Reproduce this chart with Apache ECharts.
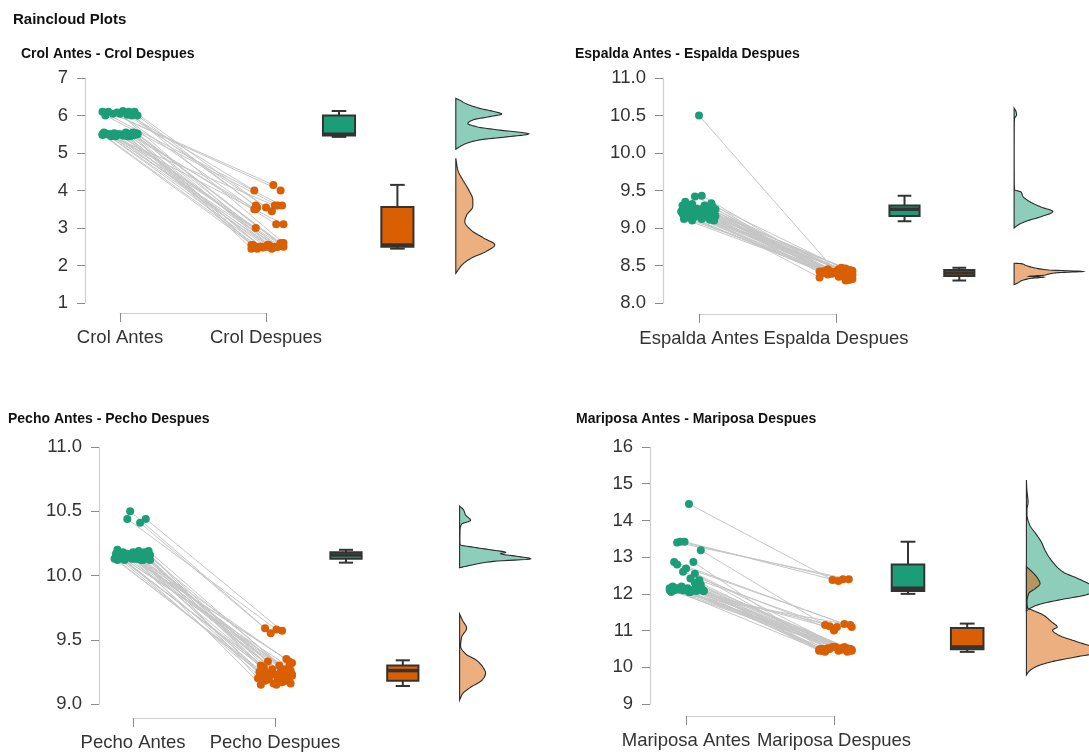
<!DOCTYPE html>
<html>
<head>
<meta charset="utf-8">
<script src="https://cdn.jsdelivr.net/npm/echarts@6/dist/echarts.min.js"></script>
<style>
html,body{margin:0;padding:0;background:#fff;}
#chart{width:1089px;height:753px;}
</style>
</head>
<body>
<div id="chart"></div>
<script>
// ---------------- DATA ----------------
const mainTitle = 'Raincloud Plots';

// Crol
const crolTitle = 'Crol Antes - Crol Despues';
const crolCategories = ['Crol Antes', 'Crol Despues'];
const crolYTicks = [1, 7, 1];
const crolAntes = [6.10,6.12,6.05,6.00,6.10,6.00,6.08,6.02,6.10,6.00,6.05,6.10,
  5.50,5.55,5.50,5.45,5.50,5.52,5.48,5.50,5.45,5.55,5.50,5.47,5.50,5.52,5.45,5.50,5.50,5.55,5.48,5.50,5.45,5.50,5.52,5.50,5.47,5.50,5.53,5.50];
const crolDespues = [4.15,4.00,4.00,3.60,3.55,3.60,3.50,3.45,3.60,3.55,2.55,2.60,
  3.60,3.50,3.10,3.10,3.00,2.60,2.55,2.50,2.50,2.45,2.50,2.55,2.50,2.48,2.50,2.55,2.45,2.50,2.50,2.52,2.50,2.48,2.55,2.50,2.50,2.45,2.55,2.50];
const crolJitterAntes = [-0.08,0.02,-0.05,0.08,0.10,-0.10,-0.02,0.05,-0.12,0.12,0.00,0.06,-0.10,0.04,0.08,-0.06,0.00,0.11,-0.12,0.06,-0.03,0.09,-0.08,0.02,0.12,-0.10,0.07,-0.05,0.04,-0.11,0.10,-0.01,0.05,-0.07,0.12,-0.12,0.03,0.08,-0.04,0.10];
const crolJitterDespues = [0.05,-0.08,0.10,-0.07,0.00,0.08,-0.08,0.04,0.11,-0.06,0.02,0.12,0.06,-0.07,0.07,0.12,-0.07,0.10,-0.09,-0.04,0.00,0.04,0.08,-0.10,0.12,-0.02,0.06,0.10,-0.06,0.02,-0.08,0.09,-0.03,0.05,0.11,-0.05,0.07,-0.10,0.01,0.08];
// [min, q1, median, q3, max]
const crolBox = [[5.43,5.47,5.50,6.00,6.12],[2.45,2.50,2.55,3.56,4.15]];
// [value, density]
const crolDensityAntes = [[6.46,0],[6.41,4],[6.33,9],[6.19,24],[6.10,39],[6.04,46],[5.97,34],[5.88,17],[5.79,12],[5.70,21],[5.61,44],[5.51,73],[5.43,51],[5.35,24],[5.26,11],[5.17,4],[5.10,0]];
const crolDensityDespues = [[4.86,0],[4.55,2],[4.28,7],[4.01,13],[3.75,17],[3.57,17],[3.35,11],[3.17,9],[2.95,15],[2.73,28],[2.55,39],[2.37,30],[2.19,15],[2.01,6],[1.79,0]];

// Espalda
const espaldaTitle = 'Espalda Antes - Espalda Despues';
const espaldaCategories = ['Espalda Antes', 'Espalda Despues'];
const espaldaYTicks = [8, 11, 0.5];
const espaldaAntes = [10.50,9.43,9.42,9.35,9.33,9.32,9.30,9.30,9.28,9.28,9.27,9.26,9.25,9.25,9.25,9.24,9.24,9.23,9.22,9.22,9.22,9.21,9.21,9.20,9.20,9.20,9.19,9.18,9.18,9.17,9.16,9.15,9.15,9.14,9.13,9.12,9.12,9.11,9.10,9.10];
const espaldaDespues = [8.42,8.45,8.47,8.44,8.42,8.46,8.41,8.43,8.42,8.45,8.40,8.42,8.41,8.43,8.40,8.42,8.39,8.41,8.42,8.40,8.44,8.41,8.38,8.42,8.40,8.39,8.41,8.36,8.42,8.38,8.33,8.40,8.31,8.35,8.32,8.39,8.30,8.34,8.37,8.31];
const espaldaJitterAntes = [0.00,0.02,-0.03,-0.10,0.09,-0.05,0.04,-0.12,0.10,-0.08,0.06,-0.02,0.12,-0.11,0.01,0.08,-0.06,0.11,-0.09,0.03,-0.13,0.07,-0.04,0.10,-0.07,0.05,-0.12,0.09,0.00,-0.10,0.12,-0.03,0.06,-0.08,0.10,-0.11,0.02,0.08,-0.05,0.11];
const espaldaJitterDespues = [0.00,-0.06,0.04,0.10,-0.10,0.07,-0.03,0.12,-0.08,0.02,0.09,-0.12,0.05,-0.05,0.11,-0.09,0.03,-0.01,0.08,-0.11,0.06,-0.07,0.12,0.00,-0.04,0.10,-0.10,0.04,0.08,-0.06,0.11,-0.08,0.09,0.02,0.12,-0.03,0.07,-0.12,0.05,0.10];
const espaldaBox = [[9.09,9.16,9.25,9.30,9.43],[8.30,8.36,8.40,8.44,8.47]];
const espaldaDensityAntes = [[10.60,0],[10.55,2],[10.51,2.5],[10.46,0.5],[10.40,0.2],[10.00,0.1],[9.60,0.2],[9.51,0.5],[9.48,7],[9.42,9],[9.35,16],[9.28,27],[9.22,39],[9.15,27],[9.09,12],[9.04,4],[9.00,0]];
const espaldaDensityDespues = [[8.53,0],[8.525,7],[8.50,12],[8.47,20],[8.44,35],[8.42,69],[8.405,45],[8.39,36],[8.37,30],[8.355,15],[8.345,30],[8.33,18],[8.30,8],[8.27,4],[8.245,0]];

// Pecho
const pechoTitle = 'Pecho Antes - Pecho Despues';
const pechoCategories = ['Pecho Antes', 'Pecho Despues'];
const pechoYTicks = [9, 11, 0.5];
const pechoAntes = [10.50,10.44,10.41,10.44,
  10.20,10.19,10.18,10.18,10.18,10.17,10.17,10.16,10.16,10.15,10.15,10.15,10.14,10.14,10.14,10.13,10.13,10.13,10.13,10.13,10.12,10.12,10.12,10.14,10.15,10.16,10.13,10.12,10.18,10.17,10.19,10.14,10.13,10.15,10.12,10.16];
const pechoDespues = [9.59,9.58,9.55,9.57,
  9.35,9.33,9.32,9.30,9.30,9.29,9.28,9.27,9.27,9.26,9.25,9.25,9.24,9.24,9.23,9.23,9.22,9.22,9.21,9.20,9.20,9.19,9.18,9.18,9.17,9.16,9.15,9.15,9.26,9.24,9.22,9.28,9.21,9.19,9.33,9.16];
const pechoJitterAntes = [-0.02,-0.04,0.05,0.09,-0.11,0.04,-0.07,0.10,0.00,-0.12,0.07,-0.03,0.12,-0.09,0.02,0.08,-0.05,0.11,-0.10,0.05,-0.01,0.09,-0.13,0.03,0.12,-0.06,0.06,-0.08,0.10,-0.02,0.01,-0.11,0.08,-0.04,0.11,-0.09,0.04,-0.12,0.07,0.00];
const pechoJitterDespues = [-0.07,0.01,-0.03,0.05,0.08,-0.05,0.12,-0.10,0.03,0.10,-0.08,0.06,-0.02,0.11,-0.11,0.04,0.09,-0.06,0.00,0.12,-0.09,0.07,-0.04,0.10,-0.12,0.02,0.08,-0.07,0.05,0.11,-0.10,0.01,0.09,-0.03,0.12,-0.08,0.06,-0.05,0.10,-0.01];
const pechoBox = [[10.10,10.13,10.16,10.18,10.20],[9.14,9.18,9.26,9.30,9.34]];
const pechoDensityAntes = [[10.54,0],[10.51,4],[10.47,6],[10.43,11],[10.40,2],[10.36,0.5],[10.28,0.3],[10.24,0.5],[10.22,14],[10.20,31],[10.18,46],[10.17,41],[10.15,57],[10.13,71],[10.11,34],[10.08,11],[10.06,0]];
const pechoDensityDespues = [[9.70,0],[9.65,3],[9.59,7],[9.52,2],[9.45,1],[9.39,6],[9.34,17],[9.29,23],[9.24,26],[9.19,23],[9.13,11],[9.08,3],[9.03,0]];

// Mariposa
const mariposaTitle = 'Mariposa Antes - Mariposa Despues';
const mariposaCategories = ['Mariposa Antes', 'Mariposa Despues'];
const mariposaYTicks = [9, 16, 1];
const mariposaAntes = [14.45,13.42,13.42,13.40,13.19,12.87,12.87,12.80,12.69,12.60,12.55,12.42,12.37,12.30,12.25,12.20,12.18,12.15,12.15,12.12,12.12,12.10,12.10,12.10,12.08,12.08,12.05,12.05,12.15,12.10,12.20,12.12,12.10,12.18,12.08,12.15,12.05,12.22,12.10,12.12];
const mariposaDespues = [12.38,12.40,12.35,12.40,11.15,11.10,10.50,11.18,10.45,11.00,10.52,10.48,11.12,10.50,10.45,11.10,10.52,10.48,10.50,10.45,10.55,10.50,10.42,10.48,10.52,10.50,11.15,10.45,10.50,10.55,10.48,10.45,11.05,10.52,10.50,10.42,10.48,10.50,10.55,10.45];
const mariposaJitterAntes = [0.02,-0.04,-0.01,-0.06,0.10,-0.08,0.05,-0.06,0.00,-0.02,0.06,0.03,0.09,0.06,0.10,-0.09,0.08,-0.11,0.01,-0.05,0.11,-0.08,0.04,-0.02,0.07,0.12,-0.10,0.03,-0.06,0.09,-0.03,0.10,0.05,-0.09,0.12,-0.07,0.02,0.08,-0.11,0.06];
const mariposaJitterDespues = [-0.01,0.06,0.03,0.10,-0.06,0.12,-0.08,0.07,0.10,0.00,-0.04,0.05,-0.03,0.11,-0.07,0.02,0.09,-0.10,0.06,0.12,-0.01,0.04,-0.06,0.10,0.08,-0.09,0.11,0.03,-0.05,0.07,0.12,-0.08,0.00,0.05,-0.03,0.09,-0.07,0.11,0.01,-0.10];
const mariposaBox = [[12.00,12.08,12.15,12.80,13.42],[10.42,10.49,10.55,11.07,11.19]];
const mariposaDensityAntes = [[15.10,0],[14.80,0.5],[14.50,1.5],[14.30,0.5],[14.15,0.5],[13.87,3],[13.65,8],[13.42,13],[13.15,17],[12.87,23],[12.60,32],[12.42,45],[12.24,57],[12.10,63],[11.97,52],[11.83,28],[11.70,10],[11.60,3],[11.53,0]];
const mariposaDensityDespues = [[12.74,0],[12.60,5],[12.42,10],[12.28,12],[12.15,8],[12.01,2],[11.78,0.5],[11.62,1],[11.56,5],[11.42,15],[11.24,22],[11.10,27],[11.01,23],[10.88,28],[10.69,45],[10.51,62],[10.42,65],[10.29,45],[10.15,22],[10.01,8],[9.88,2],[9.79,0]];

// ---------------- LAYOUT / STYLE ----------------
const FONT = "'Liberation Sans', Arial, Helvetica, sans-serif";
const GREEN = '#1b9e77', ORANGE = '#d95f02';
const GREEN_FILL = 'rgba(27,158,119,0.5)', ORANGE_FILL = 'rgba(217,95,2,0.5)';
const DARK = '#333333';
const AXIS_LINE = '#cfcfcf', TICK_COLOR = '#8a8a8a', LABEL_COLOR = '#333333';
const BOX_POS = [2.5, 2.9], DENS_POS = 3.3, BOX_W = 0.22, CAP_W = 0.1, DENS_MAX = 0.5;

const layout = [
  {left:120, top:78,  width:146, height:225, yOff:35, xOff:10, titleLeft:21,  titleTop:47},
  {left:699, top:78,  width:137, height:225, yOff:36, xOff:11, titleLeft:575, titleTop:47},
  {left:133, top:447, width:142, height:257, yOff:34, xOff:14, titleLeft:8,   titleTop:412},
  {left:686, top:447, width:148, height:257, yOff:36, xOff:12, titleLeft:576, titleTop:412}
];

const panels = [
  {title:crolTitle, cats:crolCategories, yt:crolYTicks, dec:0, antes:crolAntes, despues:crolDespues, jA:crolJitterAntes, jD:crolJitterDespues, box:crolBox, dA:crolDensityAntes, dD:crolDensityDespues},
  {title:espaldaTitle, cats:espaldaCategories, yt:espaldaYTicks, dec:1, antes:espaldaAntes, despues:espaldaDespues, jA:espaldaJitterAntes, jD:espaldaJitterDespues, box:espaldaBox, dA:espaldaDensityAntes, dD:espaldaDensityDespues},
  {title:pechoTitle, cats:pechoCategories, yt:pechoYTicks, dec:1, antes:pechoAntes, despues:pechoDespues, jA:pechoJitterAntes, jD:pechoJitterDespues, box:pechoBox, dA:pechoDensityAntes, dD:pechoDensityDespues},
  {title:mariposaTitle, cats:mariposaCategories, yt:mariposaYTicks, dec:0, antes:mariposaAntes, despues:mariposaDespues, jA:mariposaJitterAntes, jD:mariposaJitterDespues, box:mariposaBox, dA:mariposaDensityAntes, dD:mariposaDensityDespues}
];

// monotone cubic smoothing of the read density outline (render-time only)
function smoothOutline(dens, steps) {
  const pts = dens.slice().sort((a, b) => a[0] - b[0]);
  const n = pts.length, xs = pts.map(p => p[0]), ys = pts.map(p => p[1]);
  const h = [], d = [], s = new Array(n);
  for (let i = 0; i < n - 1; i++) { h[i] = xs[i+1] - xs[i]; d[i] = (ys[i+1] - ys[i]) / h[i]; }
  s[0] = d[0]; s[n-1] = d[n-2];
  for (let i = 1; i < n - 1; i++) {
    if (d[i-1] * d[i] <= 0) s[i] = 0;
    else s[i] = 3 * (h[i-1] + h[i]) / ((2*h[i] + h[i-1]) / d[i-1] + (h[i] + 2*h[i-1]) / d[i]);
  }
  const out = [];
  for (let i = 0; i < n - 1; i++) {
    for (let k = 0; k < steps; k++) {
      const t = k / steps, t2 = t*t, t3 = t2*t;
      const h00 = 2*t3 - 3*t2 + 1, h10 = t3 - 2*t2 + t, h01 = -2*t3 + 3*t2, h11 = t3 - t2;
      const y = h00*ys[i] + h10*h[i]*s[i] + h01*ys[i+1] + h11*h[i]*s[i+1];
      out.push([xs[i] + t*h[i], Math.max(0, y)]);
    }
  }
  out.push([xs[n-1], ys[n-1]]);
  return out;
}

function boxRenderer(params, api) {
  const x = api.value(0), mn = api.value(1), q1 = api.value(2), md = api.value(3), q3 = api.value(4), mx = api.value(5);
  const color = params.dataIndex === 0 ? GREEN : ORANGE;
  const tl = api.coord([x - BOX_W/2, q3]), br = api.coord([x + BOX_W/2, q1]);
  const mL = api.coord([x - BOX_W/2, md]), mR = api.coord([x + BOX_W/2, md]);
  const top = api.coord([x, mx]), q3c = api.coord([x, q3]), q1c = api.coord([x, q1]), bot = api.coord([x, mn]);
  const ctL = api.coord([x - CAP_W/2, mx]), ctR = api.coord([x + CAP_W/2, mx]);
  const cbL = api.coord([x - CAP_W/2, mn]), cbR = api.coord([x + CAP_W/2, mn]);
  const ls = {stroke: DARK, lineWidth: 2};
  return {type: 'group', children: [
    {type:'line', shape:{x1:top[0], y1:top[1], x2:q3c[0], y2:q3c[1]}, style:ls},
    {type:'line', shape:{x1:q1c[0], y1:q1c[1], x2:bot[0], y2:bot[1]}, style:ls},
    {type:'line', shape:{x1:ctL[0], y1:ctL[1], x2:ctR[0], y2:ctR[1]}, style:ls},
    {type:'line', shape:{x1:cbL[0], y1:cbL[1], x2:cbR[0], y2:cbR[1]}, style:ls},
    {type:'rect', shape:{x:tl[0], y:tl[1], width:br[0]-tl[0], height:br[1]-tl[1]}, style:{fill:color, stroke:DARK, lineWidth:2}},
    {type:'line', shape:{x1:mL[0], y1:mL[1], x2:mR[0], y2:mR[1]}, style:{stroke:DARK, lineWidth:3.5}}
  ]};
}

function densitySeries(i, dens, fill, scale, z) {
  return {
    type: 'custom', xAxisIndex: i, yAxisIndex: i, clip: false, silent: true, z: z,
    data: [[DENS_POS, dens[0][0]]], encode: {x: 0, y: 1},
    renderItem: function (params, api) {
      const curve = smoothOutline(dens, 8);
      const pts = [api.coord([DENS_POS, curve[0][0]])];
      curve.forEach(c => pts.push(api.coord([DENS_POS + c[1] * scale, c[0]])));
      pts.push(api.coord([DENS_POS, curve[curve.length - 1][0]]));
      return {type: 'polygon', shape: {points: pts}, style: {fill: fill, stroke: '#2a2a2a', lineWidth: 1.1}};
    }
  };
}

const grid = [], xAxis = [], yAxis = [], series = [];
const title = [{text: mainTitle, left: 13, top: 12, padding: 0, textStyle: {fontSize: 15, fontWeight: 'bold', color: '#111', fontFamily: FONT}}];

panels.forEach((p, i) => {
  const L = layout[i];
  grid.push({left: L.left, top: L.top, width: L.width, height: L.height, containLabel: false, outerBoundsMode: 'none'});
  xAxis.push({
    gridIndex: i, type: 'value', min: 1, max: 2, interval: 1, offset: L.xOff,
    axisLine: {show: true, onZero: false, lineStyle: {color: AXIS_LINE, width: 1.2}},
    axisTick: {show: true, inside: false, length: 9, lineStyle: {color: TICK_COLOR, width: 1}},
    axisLabel: {show: true, fontSize: 18.5, color: LABEL_COLOR, fontFamily: FONT, margin: 15,
      formatter: v => p.cats[Math.round(v) - 1] || ''},
    splitLine: {show: false}
  });
  yAxis.push({
    gridIndex: i, type: 'value', min: p.yt[0], max: p.yt[1], interval: p.yt[2], offset: L.yOff,
    axisLine: {show: true, onZero: false, lineStyle: {color: AXIS_LINE, width: 1.2}},
    axisTick: {show: true, inside: false, length: 8, lineStyle: {color: TICK_COLOR, width: 1}},
    axisLabel: {show: true, fontSize: 18.5, color: LABEL_COLOR, fontFamily: FONT, margin: 17,
      formatter: v => Number(v).toFixed(p.dec)},
    splitLine: {show: false}
  });
  title.push({text: p.title, left: L.titleLeft, top: L.titleTop, padding: 0, textStyle: {fontSize: 14, fontWeight: 'bold', color: '#111', fontFamily: FONT}});

  series.push({
    type: 'lines', coordinateSystem: 'cartesian2d', xAxisIndex: i, yAxisIndex: i, clip: false, silent: true, z: 1,
    lineStyle: {color: '#c6c6c6', width: 1, opacity: 1, curveness: 0},
    data: p.antes.map((a, k) => ({coords: [[1 + p.jA[k], a], [2 + p.jD[k], p.despues[k]]]}))
  });
  series.push({
    type: 'scatter', xAxisIndex: i, yAxisIndex: i, clip: false, silent: true, z: 2, symbolSize: 8,
    itemStyle: {color: GREEN, opacity: 1},
    data: p.antes.map((a, k) => [1 + p.jA[k], a])
  });
  series.push({
    type: 'scatter', xAxisIndex: i, yAxisIndex: i, clip: false, silent: true, z: 2, symbolSize: 8,
    itemStyle: {color: ORANGE, opacity: 1},
    data: p.despues.map((d, k) => [2 + p.jD[k], d])
  });
  series.push({
    type: 'custom', xAxisIndex: i, yAxisIndex: i, clip: false, silent: true, z: 3,
    data: p.box.map((s, k) => [BOX_POS[k]].concat(s)),
    encode: {x: 0, y: [1, 2, 3, 4, 5]},
    renderItem: boxRenderer
  });
  const maxW = Math.max(...p.dA.map(d => d[1]), ...p.dD.map(d => d[1]));
  const scale = DENS_MAX / maxW;
  series.push(densitySeries(i, p.dA, GREEN_FILL, scale, 4));
  series.push(densitySeries(i, p.dD, ORANGE_FILL, scale, 5));
});

const chart = echarts.init(document.getElementById('chart'), null, {renderer: 'canvas'});
chart.setOption({
  backgroundColor: '#ffffff',
  animation: false,
  title: title,
  grid: grid,
  xAxis: xAxis,
  yAxis: yAxis,
  series: series
});
</script>
</body>
</html>
